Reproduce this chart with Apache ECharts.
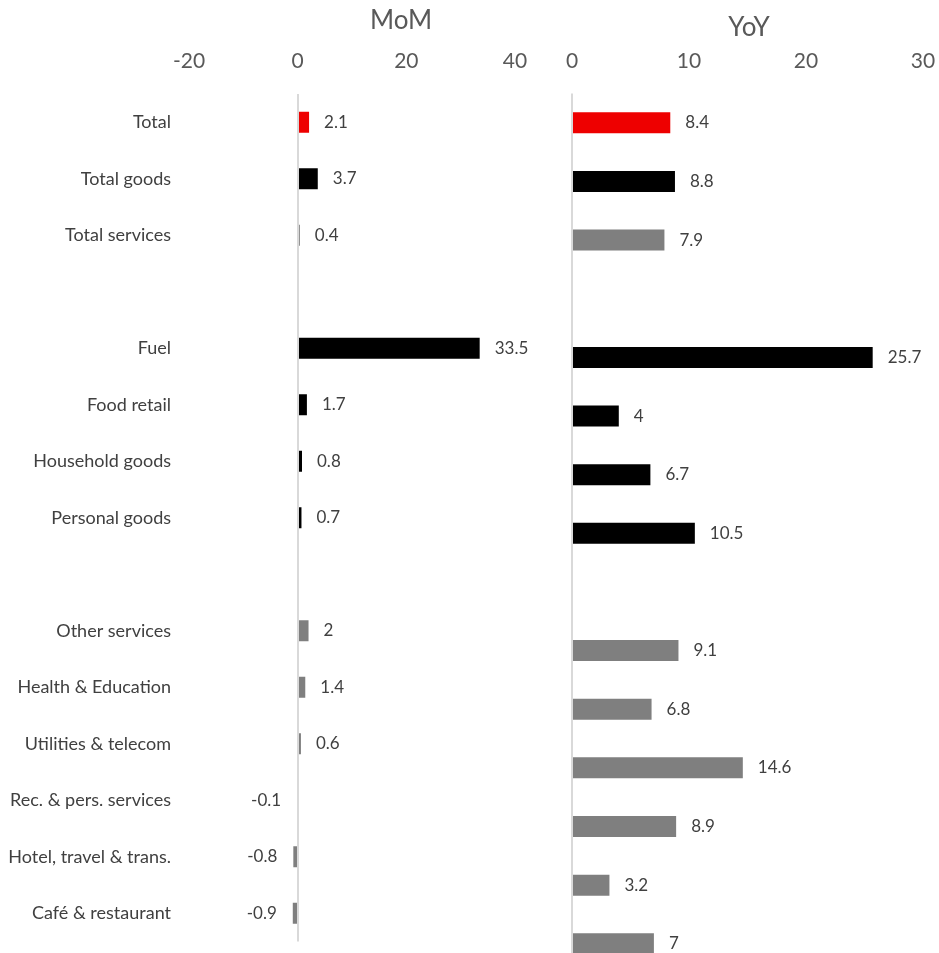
<!DOCTYPE html>
<html>
<head>
<meta charset="utf-8">
<script src="https://cdn.jsdelivr.net/npm/echarts@6/dist/echarts.min.js"></script>
<style>
html,body{margin:0;padding:0;background:#fff;overflow:hidden;}
#chart{width:939px;height:980px;}
</style>
</head>
<body>
<div id="chart"></div>
<script>
// ---- data ----
var categories = ['Total', 'Total goods', 'Total services', ' ', 'Fuel', 'Food retail', 'Household goods', 'Personal goods', '  ', 'Other services', 'Health & Education', 'Utilities & telecom', 'Rec. & pers. services', 'Hotel, travel & trans.', 'Café & restaurant'];
var groups = ['total', 'goods', 'services', '', 'goods', 'goods', 'goods', 'goods', '', 'services', 'services', 'services', 'services', 'services', 'services'];
var momValues = [2.1, 3.7, 0.4, null, 33.5, 1.7, 0.8, 0.7, null, 2, 1.4, 0.6, -0.1, -0.8, -0.9];
var yoyValues = [8.4, 8.8, 7.9, null, 25.7, 4, 6.7, 10.5, null, 9.1, 6.8, 14.6, 8.9, 3.2, 7];
var momTicks = [-20, 0, 20, 40];
var yoyTicks = [0, 10, 20, 30];

// ---- styles ----
var groupColors = { total: '#EE0000', goods: '#000000', services: '#7F7F7F' };
var FONT = 'Lato';
var labelColor = '#404040';
var tickColor = '#595959';

function buildData(values) {
  return values.map(function (v, i) {
    if (v === null) return '-';
    return {
      value: v,
      itemStyle: { color: groupColors[groups[i]] },
      label: { position: v < 0 ? 'left' : 'right', distance: v < 0 ? 16 : 15 }
    };
  });
}

function xAxisFor(ticks, gridIndex) {
  return {
    type: 'value', gridIndex: gridIndex, position: 'top',
    min: ticks[0], max: ticks[ticks.length - 1], interval: ticks[1] - ticks[0],
    axisLine: { show: false }, axisTick: { show: false }, splitLine: { show: false },
    axisLabel: { color: tickColor, fontSize: 21, fontFamily: FONT, margin: 22 }
  };
}

var zeroLine = {
  silent: true, symbol: 'none', label: { show: false },
  lineStyle: { color: '#D9D9D9', width: 2, type: 'solid' },
  data: [{ xAxis: 0 }]
};

var option = {
  animation: false,
  backgroundColor: '#ffffff',
  title: [
    { text: 'MoM', left: 401, top: 8, textAlign: 'center', padding: 0,
      textStyle: { color: tickColor, fontSize: 26, fontWeight: 'normal', fontFamily: FONT } },
    { text: 'YoY', left: 749, top: 15, textAlign: 'center', padding: 0,
      textStyle: { color: tickColor, fontSize: 26, fontWeight: 'normal', fontFamily: FONT } }
  ],
  grid: [
    { left: 189, width: 326, top: 94, height: 847.5 },
    { left: 572, width: 351, top: 93.5, height: 879.6 }
  ],
  xAxis: [xAxisFor(momTicks, 0), xAxisFor(yoyTicks, 1)],
  yAxis: [
    { type: 'category', gridIndex: 0, data: categories, inverse: true,
      axisLine: { show: false }, axisTick: { show: false }, splitLine: { show: false },
      axisLabel: { color: labelColor, fontSize: 18, fontFamily: FONT, margin: 18, interval: 0 } },
    { type: 'category', gridIndex: 1, data: categories, inverse: true,
      axisLine: { show: false }, axisTick: { show: false }, splitLine: { show: false },
      axisLabel: { show: false } }
  ],
  series: [
    { type: 'bar', xAxisIndex: 0, yAxisIndex: 0, barWidth: 21, data: buildData(momValues),
      label: { show: true, color: labelColor, fontSize: 17, fontFamily: FONT },
      markLine: zeroLine },
    { type: 'bar', xAxisIndex: 1, yAxisIndex: 1, barWidth: 21, data: buildData(yoyValues),
      label: { show: true, color: labelColor, fontSize: 17, fontFamily: FONT },
      markLine: zeroLine }
  ]
};

var chart = echarts.init(document.getElementById('chart'), null, { renderer: 'canvas' });
chart.setOption(option);
</script>
</body>
</html>
